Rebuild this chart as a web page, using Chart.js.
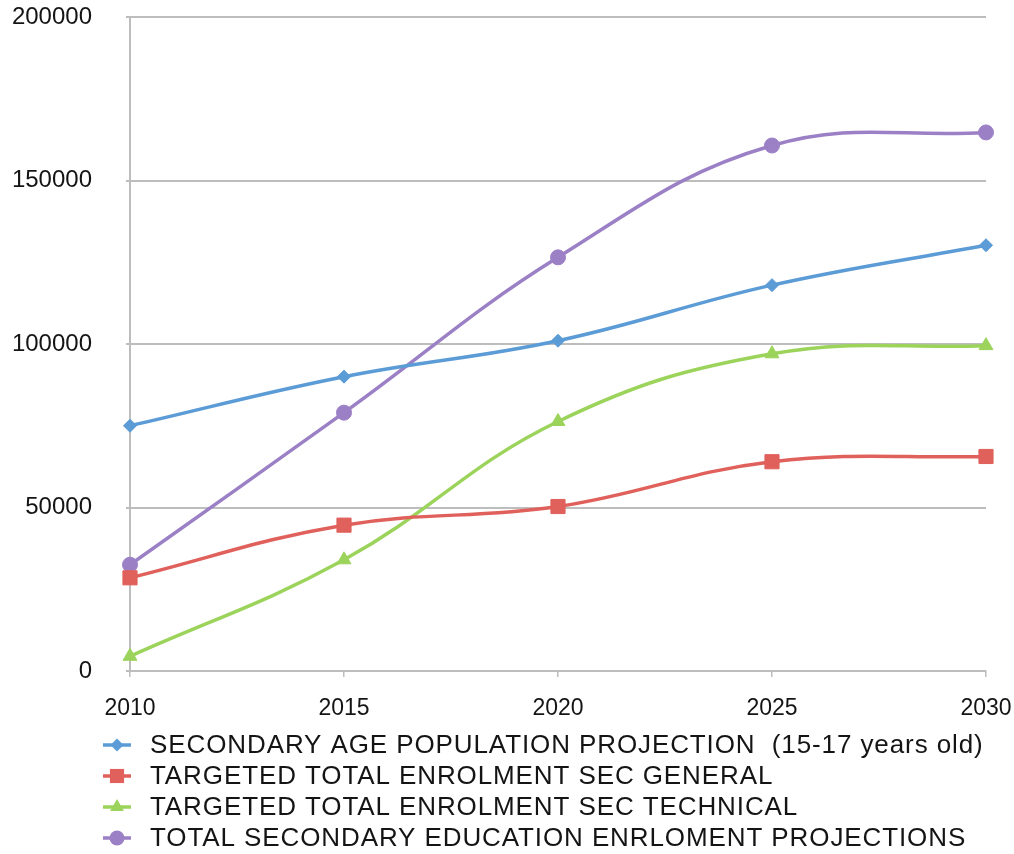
<!DOCTYPE html>
<html>
<head>
<meta charset="utf-8">
<title>Secondary education projections</title>
<script src="https://cdn.jsdelivr.net/npm/chart.js"></script>
<style>
  html, body { margin: 0; padding: 0; background: #fff; }
  #wrap { width: 1014px; height: 854px; }
</style>
</head>
<body>
<div id="wrap"><canvas id="myChart" width="1014" height="854"></canvas></div>
<script>
const years = ['2010', '2015', '2020', '2025', '2030'];
const populationProjection = [75000, 90000, 101000, 118000, 130200];
const enrolmentGeneral = [28500, 44600, 50300, 64000, 65600];
const enrolmentTechnical = [4500, 34000, 76300, 97000, 99500];
const totalEnrolment = [32500, 79000, 126500, 160700, 164700];
const yTicks = [0, 50000, 100000, 150000, 200000];
const seriesNames = [
    'SECONDARY AGE POPULATION PROJECTION  (15-17 years old)',
    'TARGETED TOTAL ENROLMENT SEC GENERAL',
    'TARGETED TOTAL ENROLMENT SEC TECHNICAL',
    'TOTAL SECONDARY EDUCATION ENRLOMENT PROJECTIONS'
];

const FONT = "'Liberation Sans', Arial, Helvetica, sans-serif";
const GRID = '#bdbdbd';
const TEXT = '#141414';

function series(label, data, color, style, radius) {
    return {
        label: label,
        data: data,
        borderColor: color,
        backgroundColor: color,
        borderWidth: 3.5,
        pointStyle: style,
        pointRadius: radius,
        pointBorderWidth: 1,
        pointHoverRadius: radius,
        tension: 0.4,
        fill: false
    };
}

// legend drawn by hand: short line with the marker in the middle, left aligned rows
const legendRows = {
    id: 'legendRows',
    afterDraw(chart) {
        const ctx = chart.ctx;
        const top = chart.chartArea.bottom + 74;
        ctx.save();
        chart.data.datasets.forEach((ds, i) => {
            const y = top + i * 31;
            ctx.strokeStyle = ds.borderColor;
            ctx.lineWidth = 3.5;
            ctx.beginPath();
            ctx.moveTo(103, y);
            ctx.lineTo(131, y);
            ctx.stroke();
            ctx.fillStyle = ds.backgroundColor;
            ctx.lineWidth = 1;
            Chart.helpers.drawPoint(ctx, {pointStyle: ds.pointStyle, radius: ds.pointRadius, rotation: 0}, 117, y);
            ctx.fillStyle = TEXT;
            ctx.font = '26px ' + FONT;
            ctx.letterSpacing = '0.9px';
            ctx.textBaseline = 'middle';
            ctx.textAlign = 'left';
            ctx.fillText(ds.label, 150, y + 1);
            ctx.letterSpacing = '0px';
        });
        ctx.restore();
    }
};

document.addEventListener('DOMContentLoaded', function () {
    const ctx = document.getElementById('myChart').getContext('2d');
    const myChart = new Chart(ctx, {
        type: 'line',
        data: {
            labels: years,
            datasets: [
                series(seriesNames[0], populationProjection, '#5b9bd6', 'rectRot', 6.5),
                series(seriesNames[1], enrolmentGeneral, '#e0605b', 'rect', 10),
                series(seriesNames[2], enrolmentTechnical, '#9bd35b', 'triangle', 8),
                series(seriesNames[3], totalEnrolment, '#9b80c6', 'circle', 7.5)
            ]
        },
        options: {
            responsive: false,
            animation: false,
            layout: {
                padding: { top: 17, right: 28, bottom: 132, left: 0 }
            },
            plugins: {
                legend: { display: false },
                tooltip: { enabled: false }
            },
            scales: {
                x: {
                    offset: false,
                    grid: {
                        drawOnChartArea: false,
                        drawTicks: true,
                        tickLength: 6,
                        color: GRID,
                        lineWidth: 1.5
                    },
                    border: { color: GRID, width: 2 },
                    ticks: {
                        color: TEXT,
                        padding: 18,
                        maxRotation: 0,
                        font: { family: FONT, size: 23 }
                    },
                    afterFit(scale) {
                        scale.height = 51;
                        scale.paddingLeft = 0;
                        scale.paddingRight = 0;
                    }
                },
                y: {
                    min: 0,
                    max: 200000,
                    afterBuildTicks(scale) {
                        scale.ticks = yTicks.map(v => ({ value: v }));
                    },
                    grid: {
                        color: GRID,
                        lineWidth: 2,
                        tickLength: 4
                    },
                    border: { color: GRID, width: 2 },
                    ticks: {
                        color: TEXT,
                        padding: 34,
                        font: { family: FONT, size: 24 },
                        callback: v => String(v)
                    },
                    afterFit(scale) {
                        scale.width = 130;
                        scale.paddingTop = 0;
                        scale.paddingBottom = 0;
                    }
                }
            }
        },
        plugins: [legendRows]
    });
});
</script>
</body>
</html>
